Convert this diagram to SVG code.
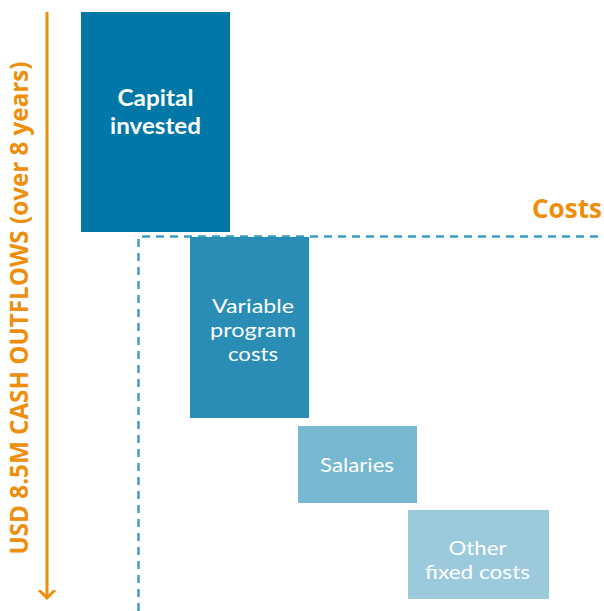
<svg xmlns="http://www.w3.org/2000/svg" width="604" height="611" viewBox="0 0 604 611">
<style>
.t{font-family:Lato,"Open Sans","Liberation Sans",sans-serif;fill:#fff;text-anchor:middle}
.b{font-weight:bold}
.o{fill:#EE8E0B;font-family:"Open Sans","Liberation Sans",sans-serif;font-weight:bold}
</style>
<defs>
<marker id="ah" markerWidth="20" markerHeight="20" refX="8" refY="10" orient="auto" markerUnits="userSpaceOnUse">
<path d="M0,2 L8,10 L0,18" fill="none" stroke="#EE8E0B" stroke-width="3"/>
</marker>
</defs>
<rect width="604" height="611" fill="#fff"/>
<g id="connectors">
<line x1="47" y1="12" x2="47" y2="598" stroke="#EE8E0B" stroke-width="3" marker-end="url(#ah)"/>
<path d="M138.5,611 V236.5 H604" fill="none" stroke="#3F9DC5" stroke-width="2.5" stroke-dasharray="8,6"/>
</g>
<g id="axis-label">
<text class="o" font-size="25" transform="translate(28,308) rotate(-90)" text-anchor="middle" textLength="493" lengthAdjust="spacingAndGlyphs">USD 8.5M CASH OUTFLOWS (over 8 years)</text>
</g>
<g id="costs-label">
<text class="o" font-size="26" x="602" y="218" text-anchor="end" textLength="70" lengthAdjust="spacingAndGlyphs">Costs</text>
</g>
<g id="capital">
<rect x="81" y="12" width="149" height="220" fill="#0077A7"/>
<text class="t b" font-size="22" x="155.5" y="106" textLength="76" lengthAdjust="spacingAndGlyphs">Capital</text>
<text class="t b" font-size="22" x="155.5" y="134" textLength="91" lengthAdjust="spacingAndGlyphs">invested</text>
</g>
<g id="variable">
<rect x="190" y="237" width="119" height="181" fill="#2A8DB6"/>
<text class="t" font-size="20" x="253" y="313" textLength="82" lengthAdjust="spacingAndGlyphs">Variable</text>
<text class="t" font-size="20" x="253" y="337" textLength="86" lengthAdjust="spacingAndGlyphs">program</text>
<text class="t" font-size="20" x="253" y="361" textLength="50" lengthAdjust="spacingAndGlyphs">costs</text>
</g>
<g id="salaries">
<rect x="298" y="426" width="119" height="77" fill="#76B8D2"/>
<text class="t" font-size="20" x="357" y="472" textLength="74" lengthAdjust="spacingAndGlyphs">Salaries</text>
</g>
<g id="other">
<rect x="408" y="510" width="141" height="89" fill="#9CCADD"/>
<text class="t" font-size="20" x="477.5" y="555" textLength="58" lengthAdjust="spacingAndGlyphs">Other</text>
<text class="t" font-size="20" x="477.5" y="579" textLength="105" lengthAdjust="spacingAndGlyphs">fixed costs</text>
</g>
</svg>
